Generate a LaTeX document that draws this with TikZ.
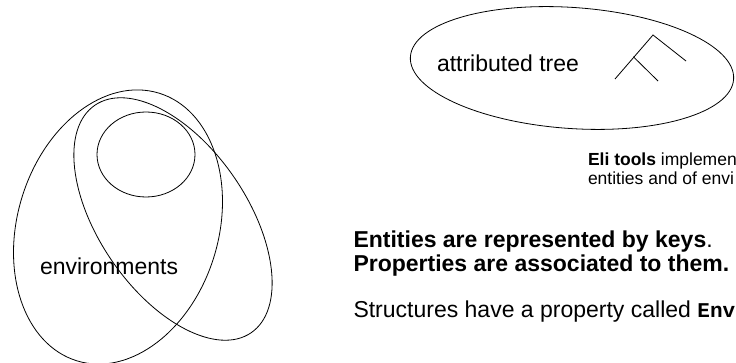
\documentclass[tikz,border=0pt]{standalone}
\usepackage{fontspec}
\setmainfont{Liberation Sans}
\setmonofont{Liberation Mono}
\begin{document}
\begin{tikzpicture}[x=1pt,y=-1pt,
  outline/.style={draw=black, line width=0.8pt},
  txt/.style={anchor=base west, inner sep=0pt, outer sep=0pt},
  bigtext/.style={font=\fontsize{23}{26}\selectfont},
  smalltext/.style={font=\fontsize{17.5}{20}\selectfont}]
\useasboundingbox (0,0) rectangle (736,363);
\clip (0,0) rectangle (736,363);

% attributed tree
\draw[outline, rotate around={-4:(572,68)}] (572,68) ellipse [x radius=162, y radius=60.5];
\node[txt, bigtext] (attr) at (437,72) {attributed tree};
\coordinate (t0) at (615,79);
\coordinate (t1) at (653,35);
\coordinate (t2) at (686,61);
\coordinate (tb) at (633.3,56.7);
\coordinate (t3) at (658,81);
\draw[outline] (t0) -- (t1) -- (t2);
\draw[outline] (tb) -- (t3);

% nested environments
\draw[outline, rotate around={-17:(118,227)}] (118,227) ellipse [x radius=100.5, y radius=140];
\draw[outline, rotate around={-55.5:(173,219)}] (173,219) ellipse [x radius=138, y radius=74];
\draw[outline] (146,154.5) ellipse [x radius=49, y radius=42.5];
\node[txt, bigtext] (env) at (40,275) {environments};

% explanatory text
\node[txt, smalltext] (eli1) at (588,166) {\textbf{Eli tools} implemen};
\node[txt, smalltext] (eli2) at (588,185) {entities and of envi};
\node[txt, bigtext] (ent) at (353.5,248) {\textbf{Entities are represented by keys}.};
\node[txt, bigtext] (prop) at (353.5,272) {\textbf{Properties are associated to them.}};
\node[txt, bigtext] (struct) at (353.5,317) {Structures have a property called {\ttfamily\bfseries\fontsize{21}{24}\selectfont Env}};
\end{tikzpicture}
\end{document}
